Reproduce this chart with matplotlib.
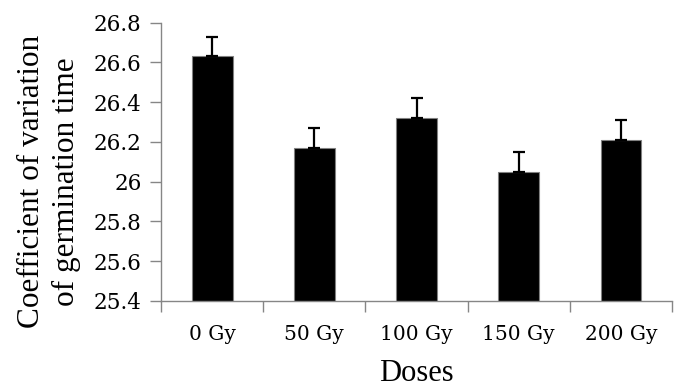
import numpy as np
import matplotlib
matplotlib.use('Agg')
import matplotlib.pyplot as plt

doses = ['0 Gy', '50 Gy', '100 Gy', '150 Gy', '200 Gy']
cv_values = [26.63, 26.17, 26.32, 26.05, 26.21]
cv_errors = [0.10, 0.10, 0.10, 0.10, 0.10]

plt.rcParams['font.family'] = ['Liberation Serif']
axis_grey = '#868686'

fig = plt.figure(figsize=(6.83, 3.91), dpi=100)
ax = fig.add_axes([0.2357, 0.2302, 0.7483, 0.7118])

x_pos = np.arange(len(doses))
ax.bar(x_pos, cv_values, width=0.4, color='black', edgecolor='#808080',
       linewidth=0.8, zorder=2)
ax.errorbar(x_pos, cv_values, yerr=[np.zeros(len(cv_errors)), cv_errors],
            fmt='none', ecolor='black', elinewidth=1.6, capsize=4.5,
            capthick=1.6, zorder=3)

ax.set_xlim(-0.5, len(doses) - 0.5)
ax.set_ylim(25.4, 26.8)
y_ticks = np.arange(25.4, 26.81, 0.2)
ax.set_yticks(y_ticks)
ax.set_yticklabels(['%g' % round(v, 1) for v in y_ticks], family='DejaVu Serif')
ax.set_xticks(x_pos)
ax.set_xticklabels(doses, family='DejaVu Serif')
ax.set_xticks(np.arange(-0.5, len(doses), 1.0), minor=True)

for side in ['top', 'right']:
    ax.spines[side].set_visible(False)
for side in ['left', 'bottom']:
    ax.spines[side].set_color(axis_grey)
    ax.spines[side].set_linewidth(1.0)

ax.tick_params(axis='y', which='major', length=8, width=1.0, color=axis_grey,
               labelsize=15.5, pad=6)
ax.tick_params(axis='x', which='major', length=0, labelsize=14.5, pad=17)
ax.tick_params(axis='x', which='minor', length=8, width=1.0, color=axis_grey)

ax.set_xlabel('Doses', fontsize=22, labelpad=11)
ax.set_ylabel('Coefficient of variation\nof germination time', fontsize=22.5,
              linespacing=1.3)
ax.yaxis.set_label_coords(-0.156, 0.43)

fig.savefig('out.png', dpi=100)
